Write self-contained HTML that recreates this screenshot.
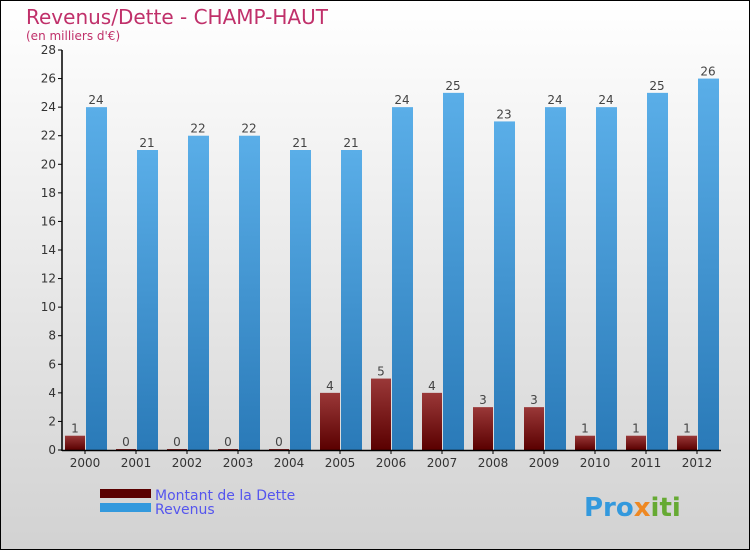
<!DOCTYPE html>
<html><head><meta charset="utf-8"><style>
body{margin:0}
#c{position:relative;width:748px;height:548px;border:1px solid #000;background:linear-gradient(#fff,#d2d2d2);overflow:hidden;font-family:"DejaVu Sans","Liberation Sans",sans-serif}
</style></head><body>
<div id="c">
<svg width="748" height="548" font-family="'DejaVu Sans','Liberation Sans',sans-serif">
<defs>
<linearGradient id="gb" x1="0" x2="0" y1="0" y2="1"><stop offset="0" stop-color="#5aaee8"/><stop offset="1" stop-color="#2a7ab8"/></linearGradient>
<linearGradient id="gr" x1="0" x2="0" y1="0" y2="1"><stop offset="0" stop-color="#9a3838"/><stop offset="1" stop-color="#5a0000"/></linearGradient>
</defs>
<text x="25" y="23" font-size="20" fill="#c0306a">Revenus/Dette - CHAMP-HAUT</text>
<text x="25" y="39" font-size="12" fill="#c0306a">(en milliers d'€)</text>
<g id="plot"></g>
<rect x="99" y="488" width="51" height="9" fill="#5a0000"/>
<rect x="99" y="502" width="51" height="9" fill="#3399dd"/>
<text x="154" y="499" font-size="14" fill="#5555ee">Montant de la Dette</text>
<text x="154" y="513" font-size="14" fill="#5555ee">Revenus</text>
<text x="583" y="515" font-size="26" font-weight="bold" fill="#3399dd">Pro<tspan fill="#ee8822">x</tspan><tspan fill="#66aa33">iti</tspan></text>
</svg>
</div>
<script>
const years=["2000","2001","2002","2003","2004","2005","2006","2007","2008","2009","2010","2011","2012"];
const dette=[1,0,0,0,0,4,5,4,3,3,1,1,1];
const revenus=[24,21,22,22,21,21,24,25,23,24,24,25,26];
const yTicks=[0,2,4,6,8,10,12,14,16,18,20,22,24,26,28];
const NS="http://www.w3.org/2000/svg";
const g=document.getElementById('plot');
const y=v=>449-v*400/28;
const xc=i=>84+i*51;
function mk(t,a,p){const e=document.createElementNS(NS,t);for(const k in a)e.setAttribute(k,a[k]);(p||g).appendChild(e);return e;}
yTicks.forEach(v=>{
 const l=mk('line',{x1:57,x2:61,y1:y(v),y2:y(v),stroke:'#000'});
 
 
 const t=mk('text',{x:55,y:y(v)+4,'font-size':12,'text-anchor':'end',fill:'#333'});t.textContent=v;
 
 
});
years.forEach((yr,i)=>{
 const c=xc(i);
 const hd=Math.max(dette[i]*400/28,1);
 const b1=mk('rect',{x:c-20,y:y(0)-hd,width:20,height:hd,fill:'url(#gr)'});
 
 
 const b2=mk('rect',{x:c+1,y:y(revenus[i]),width:21,height:revenus[i]*400/28,fill:'url(#gb)'});
 
 
 const t1=mk('text',{x:c-10,y:y(0)-hd-3,'font-size':12,'text-anchor':'middle',fill:'#444'});t1.textContent=dette[i];
 
 
 const t2=mk('text',{x:c+11,y:y(revenus[i])-3,'font-size':12,'text-anchor':'middle',fill:'#444'});t2.textContent=revenus[i];
 
 
 const tk=mk('line',{x1:c,x2:c,y1:449,y2:453,stroke:'#000'});
 
 
 const tl=mk('text',{x:c,y:466,'font-size':12,'text-anchor':'middle',fill:'#333'});tl.textContent=yr;
 
 
});
const ya=mk('line',{x1:61,x2:61,y1:y(28),y2:450,stroke:'#000','stroke-width':1.5});


const xa=mk('line',{x1:61,x2:720,y1:449.5,y2:449.5,stroke:'#000','stroke-width':1.5});


</script>
</body></html>
